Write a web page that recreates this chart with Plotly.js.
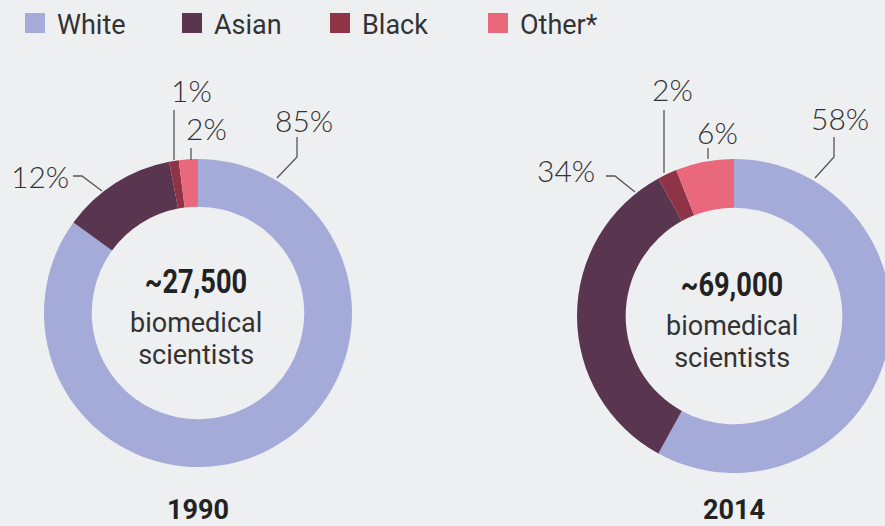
<!DOCTYPE html>
<html>
<head>
<meta charset="utf-8">
<script src="https://cdn.plot.ly/plotly-3.0.1.min.js"></script>
<style>
html,body{margin:0;padding:0;background:#eeeff1;overflow:hidden;width:885px;height:526px;}
#chart{width:900px;height:526px;}
</style>
</head>
<body>
<div id="chart"></div>
<script>
// ---- data ----
const categories = ["White", "Asian", "Black", "Other*"];
const colors = ["#a5abd8", "#5a3550", "#8e3446", "#e9687b"];
const years = ["1990", "2014"];
const values1990 = [85, 12, 1, 2];
const values2014 = [58, 34, 2, 6];
const totals = ["~27,500", "~69,000"];
const subLabel = "biomedical<br>scientists";

// ---- layout geometry (pixels) ----
const W = 900, H = 526;
const px = x => x / W;
const py = y => 1 - y / H;
const donuts = [
  {cx: 198, cy: 313, r: 154, values: values1990},
  {cx: 734, cy: 316, r: 157, values: values2014}
];
// label placement per slice (text centre + leader path from ring outward)
const labelPos = [
  [ {t:[304,120], p:[[277,178],[297,157],[297,137]]},
    {t:[40,176],  p:[[102,191],[82,176],[73,176]]},
    {t:[191,90],  p:[[174,160],[174,110]]},
    {t:[206,128], p:[[191,160],[191,148]]} ],
  [ {t:[840,118], p:[[815,178],[834,157],[834,137]]},
    {t:[566,170], p:[[635,192],[615,176],[606,176]]},
    {t:[672,89],  p:[[664,173],[664,110]]},
    {t:[717,132], p:[[708,159],[708,148]]} ]
];

const labelFont = {family: "Lato, 'Open Sans', sans-serif", size: 30, color: "#333333", weight: 300};
const bodyFont = {family: "Roboto, 'Noto Sans', sans-serif", size: 27, color: "#333333"};
const legendFont = {family: "Roboto, 'Noto Sans', sans-serif", size: 27, color: "#333333"};
const boldFont = {family: "Roboto, 'Noto Sans', sans-serif", size: 34, color: "#222222", weight: 700};
const yearFont = {family: "Roboto, 'Noto Sans', sans-serif", size: 27, color: "#222222", weight: 700};

const traces = donuts.map((d, i) => ({
  type: "pie",
  labels: categories,
  values: d.values,
  hole: 0.69,
  sort: false,
  direction: "clockwise",
  rotation: 0,
  textinfo: "none",
  hoverinfo: "label+percent",
  marker: {colors: colors, line: {width: 0}},
  showlegend: false,
  domain: {x: [px(d.cx - d.r), px(d.cx + d.r)], y: [py(d.cy + d.r), py(d.cy - d.r)]}
}));

const annotations = [];
const shapes = [];
const condensedIdx = [];
const subIdx = [];

donuts.forEach((d, i) => {
  // centre text
  condensedIdx.push(annotations.length);
  annotations.push({xref: "paper", yref: "paper", x: px(d.cx - 2), y: py(d.cy - 32),
    text: totals[i], showarrow: false, xanchor: "center", yanchor: "middle", font: boldFont});
  subIdx.push(annotations.length);
  annotations.push({xref: "paper", yref: "paper", x: px(d.cx - 2), y: py(d.cy + 27),
    text: subLabel, showarrow: false, xanchor: "center", yanchor: "middle", font: bodyFont});
  // year
  annotations.push({xref: "paper", yref: "paper", x: px(d.cx), y: py(510),
    text: years[i], showarrow: false, xanchor: "center", yanchor: "middle", font: yearFont});
  // percentage labels with leader lines
  d.values.forEach((v, k) => {
    const lp = labelPos[i][k];
    annotations.push({xref: "paper", yref: "paper", x: px(lp.t[0]), y: py(lp.t[1]),
      text: v + "%", showarrow: false, xanchor: "center", yanchor: "middle", font: labelFont});
    const path = lp.p.map((pt, j) => (j ? "L" : "M") + px(pt[0]) + "," + py(pt[1])).join(" ");
    shapes.push({type: "path", xref: "paper", yref: "paper", path: path,
      line: {color: "#555555", width: 1.3}});
  });
});

// custom legend
const legendX = [25, 182, 330, 488];
categories.forEach((c, k) => {
  shapes.push({type: "rect", xref: "paper", yref: "paper",
    x0: px(legendX[k]), x1: px(legendX[k] + 20), y0: py(33), y1: py(13),
    fillcolor: colors[k], line: {width: 0}});
  annotations.push({xref: "paper", yref: "paper", x: px(legendX[k] + 30), y: py(25),
    text: c, showarrow: false, xanchor: "left", yanchor: "middle", font: legendFont});
});

const layout = {
  width: W, height: H,
  margin: {l: 0, r: 0, t: 0, b: 0},
  paper_bgcolor: "#eeeff1",
  plot_bgcolor: "#eeeff1",
  showlegend: false,
  annotations: annotations,
  shapes: shapes
};

Plotly.newPlot("chart", traces, layout, {displayModeBar: false, staticPlot: true}).then(gd => {
  condensedIdx.forEach(idx => {
    gd.querySelectorAll('.annotation[data-index="' + idx + '"] text').forEach(t => {
      t.style.transformBox = "fill-box";
      t.style.transformOrigin = "center";
      t.style.transform = "scaleX(0.8)";
    });
  });
  // tighten line spacing of the two-line centre caption
  subIdx.forEach(idx => {
    gd.querySelectorAll('.annotation[data-index="' + idx + '"] tspan.line').forEach((ts, j) => {
      if (j > 0) ts.setAttribute("dy", "1.19em");
    });
  });
});
</script>
</body>
</html>
